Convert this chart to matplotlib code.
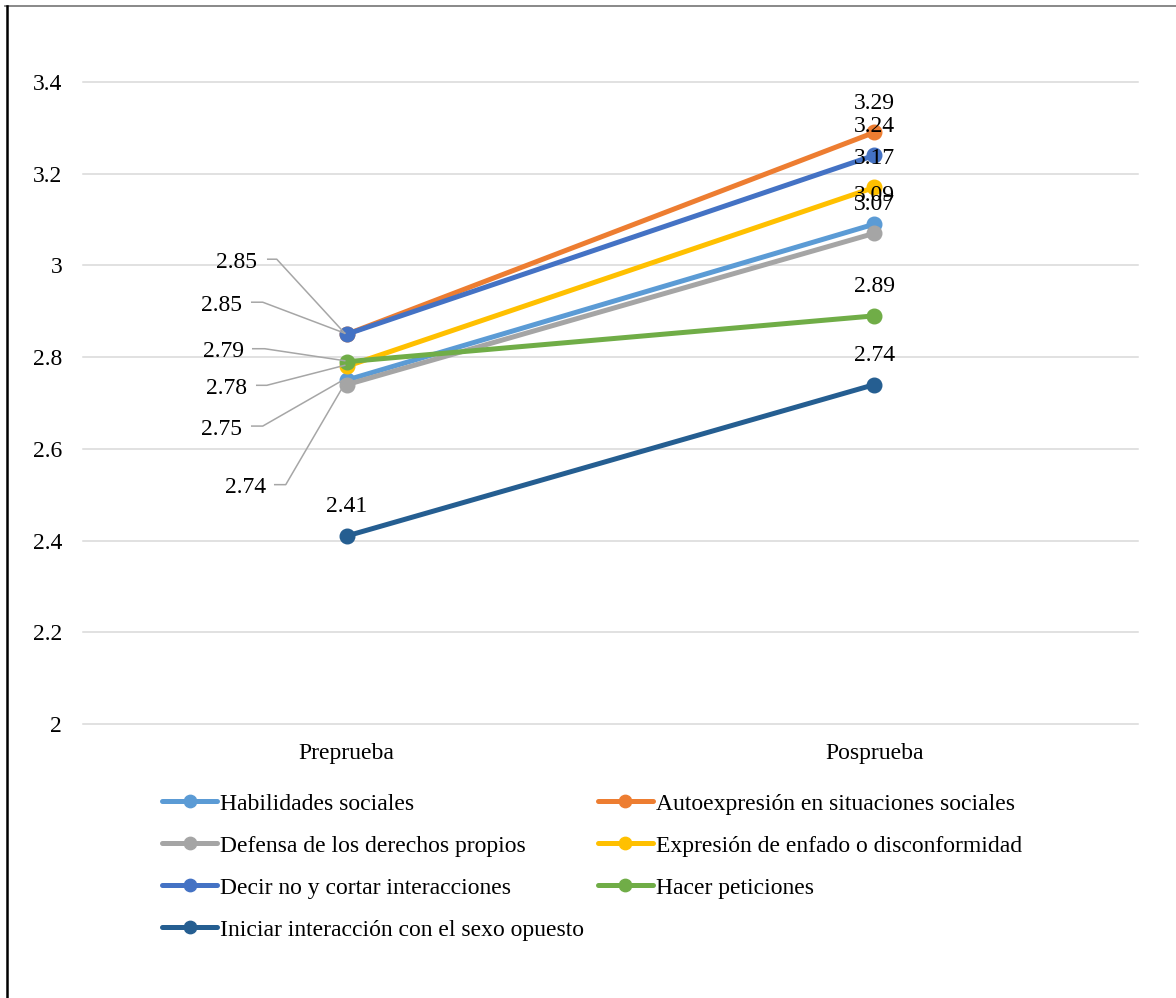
import matplotlib
matplotlib.use("Agg")
import matplotlib.pyplot as plt
from matplotlib.lines import Line2D

plt.rcParams["font.family"] = ["Liberation Serif", "DejaVu Serif"]

# Data
categories = ["Preprueba", "Posprueba"]
series_names = [
    "Habilidades sociales",
    "Autoexpresión en situaciones sociales",
    "Defensa de los derechos propios",
    "Expresión de enfado o disconformidad",
    "Decir no y cortar interacciones",
    "Hacer peticiones",
    "Iniciar interacción con el sexo opuesto",
]
habilidades_sociales = [2.75, 3.09]
autoexpresion = [2.85, 3.29]
defensa_derechos = [2.74, 3.07]
expresion_enfado = [2.78, 3.17]
decir_no = [2.85, 3.24]
hacer_peticiones = [2.79, 2.89]
iniciar_interaccion = [2.41, 2.74]
y_ticks = [2.0, 2.2, 2.4, 2.6, 2.8, 3.0, 3.2, 3.4]
y_tick_labels = ["2", "2.2", "2.4", "2.6", "2.8", "3", "3.2", "3.4"]

series_values = [habilidades_sociales, autoexpresion, defensa_derechos,
                 expresion_enfado, decir_no, hacer_peticiones, iniciar_interaccion]
colors = ["#5B9BD5", "#ED7D31", "#A5A5A5", "#FFC000", "#4472C4", "#70AD47", "#255E91"]

# Pixel offsets (text dx, text dy with y downward, leader start dx, leader elbow dx)
# of the first-category labels that carry leader lines; None means the label
# sits straight above the point.
left_label_offsets = [
    (-125.5, 47, -95, -84),   # habilidades
    (-110, -74, -79, -70),    # autoexpresion
    (-101.5, 101, -72, -61),  # defensa
    (-120, 20, -90, -80),     # expresion
    (-125.5, -31, -95, -84),  # decir no
    (-123, -12, -94, -82),    # peticiones
    None,                     # iniciar
]
text_shift = 2  # glyph centre sits a little below the text box centre

W, H = 1176, 998
fig = plt.figure(figsize=(W / 100, H / 100), dpi=100)
fig.patch.set_facecolor("white")

ax_left, ax_right, ax_top, ax_bottom = 83, 1138, 82, 724
ax = fig.add_axes([ax_left / W, 1 - ax_bottom / H,
                   (ax_right - ax_left) / W, (ax_bottom - ax_top) / H])
ax.set_xlim(-0.5, 1.5)
ax.set_ylim(2.0, 3.4)
for s in ax.spines.values():
    s.set_visible(False)

ax.set_yticks(y_ticks)
ax.set_yticklabels(y_tick_labels)
ax.set_xticks(range(len(categories)))
ax.set_xticklabels(categories)
ax.tick_params(axis="y", length=0, pad=15, labelsize=17, labelcolor="black")
ax.tick_params(axis="x", length=0, pad=14, labelsize=17, labelcolor="black")
ax.yaxis.grid(True, color="#D9D9D9", linewidth=1.1)
for gl in ax.get_ygridlines():
    gl.set_clip_on(False)
ax.set_axisbelow(True)

x = list(range(len(categories)))
lines = []
for name, vals, col in zip(series_names, series_values, colors):
    (ln,) = ax.plot(x, vals, color=col, linewidth=3.6, marker="o",
                    markersize=10.5, label=name, solid_capstyle="round", zorder=3)
    lines.append(ln)

to_data = ax.transData.inverted()

# Data labels
for vals, offs in zip(series_values, left_label_offsets):
    # second category: above the point
    ax.annotate(f"{vals[1]:.2f}", xy=(1, vals[1]), xytext=(0, 31 - text_shift),
                textcoords="offset pixels", ha="center", va="center",
                fontsize=17, color="black", zorder=5)
    if offs is None:
        ax.annotate(f"{vals[0]:.2f}", xy=(0, vals[0]), xytext=(0, 31 - text_shift),
                    textcoords="offset pixels", ha="center", va="center",
                    fontsize=17, color="black", zorder=5)
        continue
    tdx, tdy, lx0, lx1 = offs
    ax.annotate(f"{vals[0]:.2f}", xy=(0, vals[0]),
                xytext=(tdx, -tdy - text_shift),
                textcoords="offset pixels", ha="center", va="center",
                fontsize=17, color="black", zorder=5)
    px, py = ax.transData.transform((0, vals[0]))
    ly = py - tdy + 1
    pts = [(px + lx0, ly), (px + lx1, ly), (px - 2, py + 1)]
    dpts = to_data.transform(pts)
    ax.plot(dpts[:, 0], dpts[:, 1], color="#A6A6A6", linewidth=1.1,
            clip_on=False, zorder=4)

# Legend laid out row by row in two columns
order = [0, 2, 4, 6, 1, 3, 5]
leg = fig.legend([lines[i] for i in order], [series_names[i] for i in order],
                 ncol=2, loc="upper left",
                 bbox_to_anchor=(162 / W, 1 - 793 / H),
                 frameon=False, fontsize=17, handlelength=2.35,
                 handletextpad=0.12, columnspacing=0.56, labelspacing=0.87,
                 borderpad=0, borderaxespad=0, markerscale=0.85)

# Outer frame lines
fig.add_artist(Line2D([5 / W, 1.0], [1 - 6 / H, 1 - 6 / H],
                      color="#7F7F7F", linewidth=1.3, transform=fig.transFigure))
fig.add_artist(Line2D([6.5 / W, 6.5 / W], [0, 1 - 6 / H],
                      color="black", linewidth=1.8, transform=fig.transFigure))

fig.savefig("out.png", dpi=100)
